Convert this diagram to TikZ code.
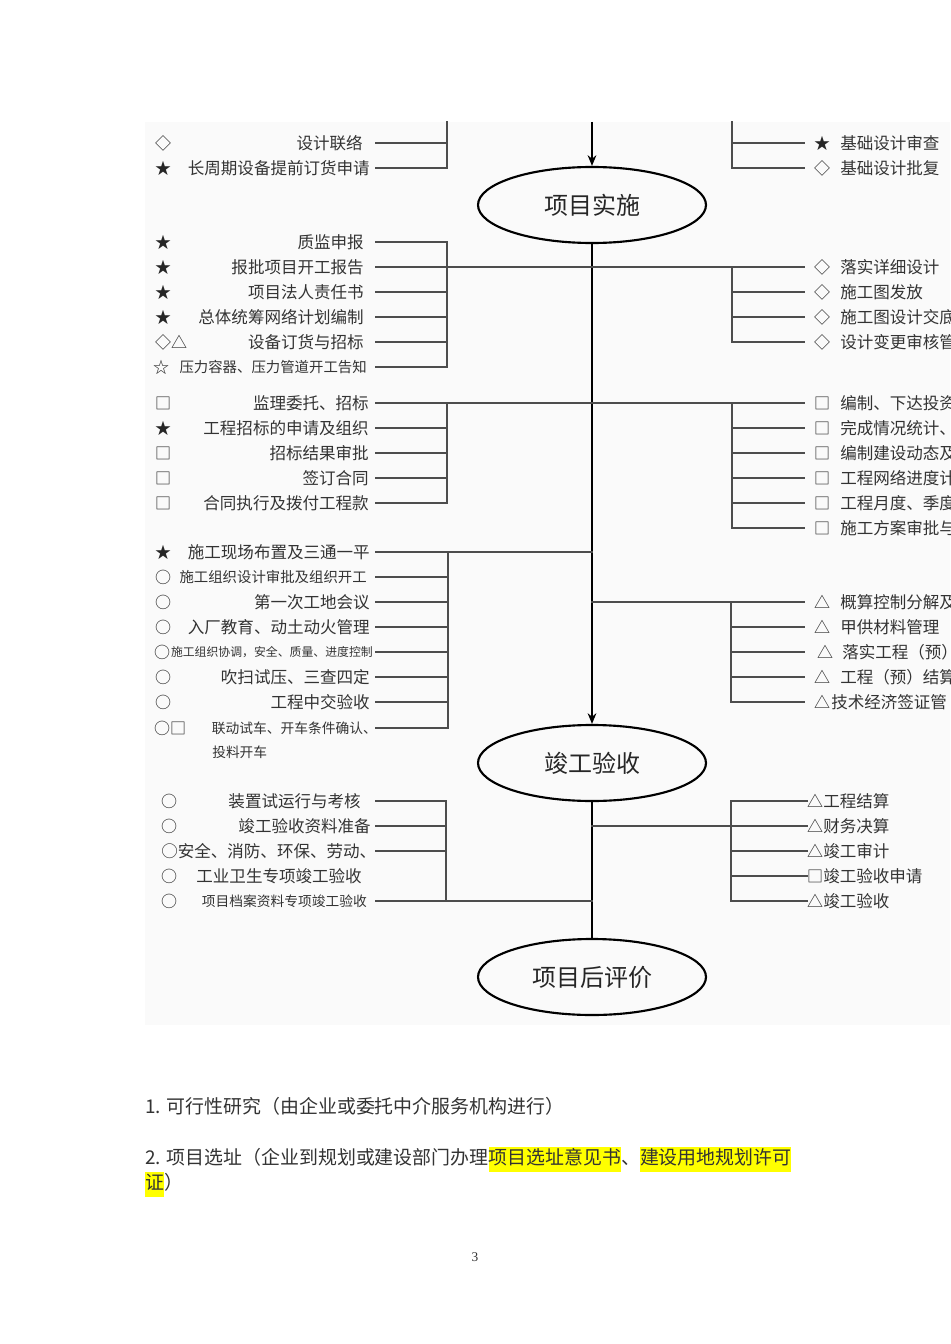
\documentclass[tikz,border=0pt]{standalone}
\usepackage{fontspec}
\setmainfont{Liberation Serif}
\newfontfamily\cjk{Noto Sans CJK SC}
\usetikzlibrary{arrows.meta,shapes.geometric}
\definecolor{ink}{HTML}{333333}
\definecolor{lin}{HTML}{4D4D4D}
\definecolor{hl}{HTML}{FFFF00}
\definecolor{scan}{HTML}{FAFAFA}
\newcommand\hlt[1]{{\setlength{\fboxsep}{0pt}\colorbox{hl}{\strut#1}}}
\begin{document}
\begin{tikzpicture}[x=0.75pt,y=-0.75pt,
  rowL/.style={font=\cjk\fontsize{12.4}{15}\selectfont,text=ink,inner sep=0pt,anchor=east},
  rowR/.style={font=\cjk\fontsize{12.4}{15}\selectfont,text=ink,inner sep=0pt,anchor=west},
  sym/.style={font=\cjk\fontsize{12}{15}\selectfont,text=black!85,inner sep=0pt},
  small/.style={font=\cjk\fontsize{10.8}{13}\selectfont},
  smaller/.style={font=\cjk\fontsize{10.3}{13}\selectfont},
  tiny/.style={font=\cjk\fontsize{8.9}{11}\selectfont},
  br/.style={draw=lin,line width=1.4pt,line cap=rect},
  spine/.style={draw=black,line width=2.2pt},
  tip/.style={-{Stealth[length=8pt,width=6.5pt]}},
  stage/.style={draw=black,line width=1.6pt,ellipse,inner sep=0pt,minimum width=171pt,minimum height=57pt,font=\cjk\fontsize{18}{20}\selectfont,text=black!85},
  para/.style={font=\cjk\fontsize{14.2}{18.75}\selectfont,text=ink,inner sep=0pt,anchor=base west}
]
\useasboundingbox (0,0) rectangle (950,1344);
\clip (0,0) rectangle (950,1344);
\fill[white] (0,0) rectangle (950,1344);
\fill[scan] (145,122) rectangle (950,1025);

% ---------- stages and spine ----------
\node[stage] (E1) at (592,205) {项目实施};
\node[stage] (E2) at (592,763) {竣工验收};
\node[stage] (E3) at (592,977) {项目后评价};
\coordinate (S0) at (592,122);
\draw[spine,tip] (S0) -- (E1.north);
\draw[spine,tip] (E1.south) -- (E2.north);
\draw[spine] (E2.south) -- (E3.north);

\coordinate (LS) at (376,0);
\coordinate (RE) at (804,0);
\coordinate (RE4) at (807,0);

% ---------- top block ----------
\node[sym] (t1s) at (163,143) {◇};
\node[rowL] (t1) at (363,143) {设计联络};
\node[sym] (t2s) at (163,168) {★};
\node[rowL] (t2) at (370,168) {长周期设备提前订货申请};
\coordinate (TL) at (447,122);
\draw[br] (TL) -- (TL |- t2);
\foreach \n in {t1,t2} \draw[br] (\n -| LS) -- (\n -| TL);

\node[sym] (u1s) at (822,143) {★};
\node[rowR] (u1) at (840,143) {基础设计审查};
\node[sym] (u2s) at (822,168) {◇};
\node[rowR] (u2) at (840,168) {基础设计批复};
\coordinate (TR) at (732,122);
\draw[br] (TR) -- (TR |- u2);
\foreach \n in {u1,u2} \draw[br] (\n -| TR) -- (\n -| RE);

% ---------- block 1 ----------
\node[sym] (a1s) at (163,242) {★};
\node[rowL] (a1) at (364,242) {质监申报};
\node[sym] (a2s) at (163,267) {★};
\node[rowL] (a2) at (364,267) {报批项目开工报告};
\node[sym] (a3s) at (163,292) {★};
\node[rowL] (a3) at (364,292) {项目法人责任书};
\node[sym] (a4s) at (163,317) {★};
\node[rowL] (a4) at (364,317) {总体统筹网络计划编制};
\node[sym] (a5s) at (171,342) {◇△};
\node[rowL] (a5) at (364,342) {设备订货与招标};
\node[sym] (a6s) at (161,367) {☆};
\node[rowL,small] (a6) at (367,367) {压力容器、压力管道开工告知};
\coordinate (B1) at (447,242);
\draw[br] (B1) -- (B1 |- a6);
\foreach \n in {a1,a3,a4,a5,a6} \draw[br] (\n -| LS) -- (\n -| B1);

\node[sym] (b1s) at (822,267) {◇};
\node[rowR] (b1) at (840,267) {落实详细设计};
\node[sym] (b2s) at (822,292) {◇};
\node[rowR] (b2) at (840,292) {施工图发放};
\node[sym] (b3s) at (822,317) {◇};
\node[rowR] (b3) at (840,317) {施工图设计交底};
\node[sym] (b4s) at (822,342) {◇};
\node[rowR] (b4) at (840,342) {设计变更审核管};
\draw[br] (a2 -| LS) -- (b1 -| RE);
\coordinate (C1) at (732,267);
\draw[br] (C1) -- (C1 |- b4);
\foreach \n in {b2,b3,b4} \draw[br] (\n -| C1) -- (\n -| RE);

% ---------- block 2 ----------
\node[sym] (c1s) at (163,403) {□};
\node[rowL] (c1) at (369,403) {监理委托、招标};
\node[sym] (c2s) at (163,428) {★};
\node[rowL] (c2) at (369,428) {工程招标的申请及组织};
\node[sym] (c3s) at (163,453) {□};
\node[rowL] (c3) at (369,453) {招标结果审批};
\node[sym] (c4s) at (163,478) {□};
\node[rowL] (c4) at (369,478) {签订合同};
\node[sym] (c5s) at (163,503) {□};
\node[rowL] (c5) at (369,503) {合同执行及拨付工程款};
\coordinate (B2) at (447,403);
\draw[br] (B2) -- (B2 |- c5);
\foreach \n in {c2,c3,c4,c5} \draw[br] (\n -| LS) -- (\n -| B2);

\node[sym] (d1s) at (822,403) {□};
\node[rowR] (d1) at (840,403) {编制、下达投资};
\node[sym] (d2s) at (822,428) {□};
\node[rowR] (d2) at (840,428) {完成情况统计、};
\node[sym] (d3s) at (822,453) {□};
\node[rowR] (d3) at (840,453) {编制建设动态及};
\node[sym] (d4s) at (822,478) {□};
\node[rowR] (d4) at (840,478) {工程网络进度计};
\node[sym] (d5s) at (822,503) {□};
\node[rowR] (d5) at (840,503) {工程月度、季度};
\node[sym] (d6s) at (822,528) {□};
\node[rowR] (d6) at (840,528) {施工方案审批与};
\draw[br] (c1 -| LS) -- (d1 -| RE);
\coordinate (C2) at (732,403);
\draw[br] (C2) -- (C2 |- d6);
\foreach \n in {d2,d3,d4,d5,d6} \draw[br] (\n -| C2) -- (\n -| RE);

% ---------- block 3 ----------
\node[sym] (e1s) at (163,552) {★};
\node[rowL] (e1) at (370,552) {施工现场布置及三通一平};
\node[sym] (e2s) at (163,577) {○};
\node[rowL,small] (e2) at (367,577) {施工组织设计审批及组织开工};
\node[sym] (e3s) at (163,602) {○};
\node[rowL] (e3) at (370,602) {第一次工地会议};
\node[sym] (e4s) at (163,627) {○};
\node[rowL] (e4) at (370,627) {入厂教育、动土动火管理};
\node[sym] (e5s) at (162,652) {○};
\node[rowL,tiny] (e5) at (373,652) {施工组织协调，安全、质量、进度控制};
\node[sym] (e6s) at (163,677) {○};
\node[rowL] (e6) at (370,677) {吹扫试压、三查四定};
\node[sym] (e7s) at (163,702) {○};
\node[rowL] (e7) at (370,702) {工程中交验收};
\node[sym] (e8s) at (170,728) {○□};
\node[rowL,smaller] (e8) at (377,728) {联动试车、开车条件确认、};
\node[rowR,smaller] (e9) at (212,752) {投料开车};
\coordinate (B3) at (448,552);
\draw[br] (B3) -- (B3 |- e8);
\draw[br] (e1 -| LS) -- (e1 -| E1);
\foreach \n in {e2,e3,e4,e5,e6,e7,e8} \draw[br] (\n -| LS) -- (\n -| B3);

\node[sym] (f1s) at (822,602) {△};
\node[rowR] (f1) at (840,602) {概算控制分解及};
\node[sym] (f2s) at (822,627) {△};
\node[rowR] (f2) at (840,627) {甲供材料管理};
\node[sym] (f3s) at (825,652) {△};
\node[rowR] (f3) at (842,652) {落实工程（预）};
\node[sym] (f4s) at (822,677) {△};
\node[rowR] (f4) at (840,677) {工程（预）结算};
\node[sym] (f5s) at (822,702) {△};
\node[rowR] (f5) at (831,702) {技术经济签证管};
\draw[br] (f1 -| E1) -- (f1 -| RE);
\coordinate (C3) at (731,602);
\draw[br] (C3) -- (C3 |- f5);
\foreach \n in {f2,f3,f4,f5} \draw[br] (\n -| C3) -- (\n -| RE);

% ---------- block 4 ----------
\node[sym] (g1s) at (169,801) {○};
\node[rowL] (g1) at (361,801) {装置试运行与考核};
\node[sym] (g2s) at (169,826) {○};
\node[rowL] (g2) at (371,826) {竣工验收资料准备};
\node[rowR] (g3) at (161,851) {○安全、消防、环保、劳动、};
\node[sym] (g4s) at (169,876) {○};
\node[rowL] (g4) at (362,876) {工业卫生专项竣工验收};
\node[sym] (g5s) at (169,901) {○};
\node[rowL,smaller] (g5) at (367,901) {项目档案资料专项竣工验收};
\coordinate (B4) at (446,801);
\draw[br] (B4) -- (B4 |- g5);
\foreach \n in {g1,g2,g3} \draw[br] (\n -| LS) -- (\n -| B4);
\draw[br] (g5 -| LS) -- (g5 -| E2);

\node[sym] (h1s) at (815,801) {△};
\node[rowR] (h1) at (823,801) {工程结算};
\node[sym] (h2s) at (815,826) {△};
\node[rowR] (h2) at (823,826) {财务决算};
\node[sym] (h3s) at (815,851) {△};
\node[rowR] (h3) at (823,851) {竣工审计};
\node[sym] (h4s) at (815,876) {□};
\node[rowR] (h4) at (823,876) {竣工验收申请};
\node[sym] (h5s) at (815,901) {△};
\node[rowR] (h5) at (823,901) {竣工验收};
\coordinate (C4) at (731,801);
\draw[br] (C4) -- (C4 |- h5);
\draw[br] (h2 -| E2) -- (h2 -| RE4);
\foreach \n in {h1,h3,h4,h5} \draw[br] (\n -| C4) -- (\n -| RE4);

% ---------- text below ----------
\node[para] (p1) at (145,1113) {1. 可行性研究（由企业或委托中介服务机构进行）};
\node[para] (p2) at (145,1164) {2. 项目选址（企业到规划或建设部门办理\hlt{项目选址意见书}、\hlt{建设用地规划许可}};
\node[para] (p3) at (145,1189) {\hlt{证}）};
\node[font=\fontsize{10}{12}\selectfont,text=ink,inner sep=0pt] (pg) at (475,1257) {3};
\end{tikzpicture}
\end{document}
